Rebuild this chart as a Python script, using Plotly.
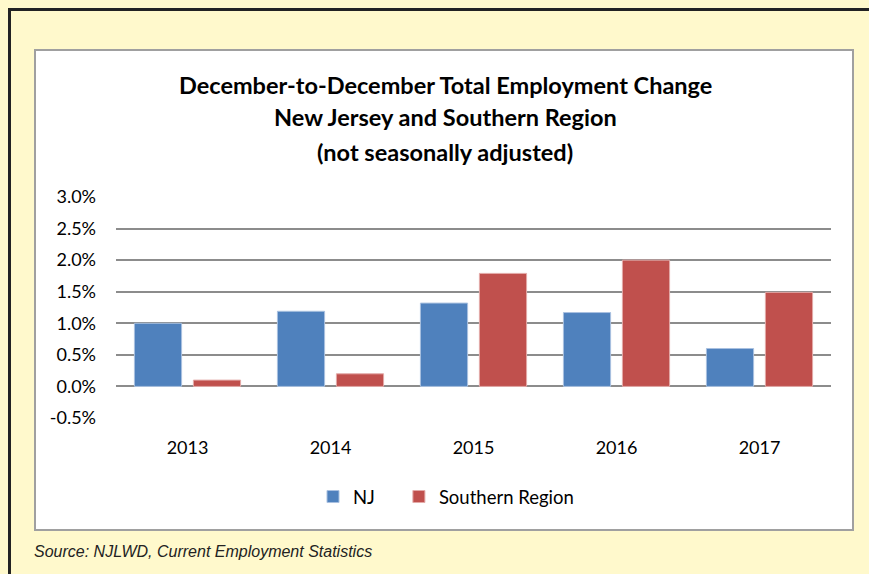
import plotly.graph_objects as go

years = ["2013", "2014", "2015", "2016", "2017"]
nj = [1.00, 1.19, 1.32, 1.17, 0.60]
southern = [0.10, 0.20, 1.79, 2.00, 1.49]
tick_vals = [-0.5, 0.0, 0.5, 1.0, 1.5, 2.0, 2.5, 3.0]
tick_text = ["-0.5%", "0.0%", "0.5%", "1.0%", "1.5%", "2.0%", "2.5%", "3.0%"]

W, H = 869, 574
L, R, T, B = 116, 38, 197, 156
ph = H - T - B

def py(p):
    return (H - B - p) / ph

def px(p):
    return (p - L) / (W - L - R)

FONT = "Lato"
PAD = "\u00a0" * 4

fig = go.Figure()
fig.add_trace(go.Bar(name="NJ" + PAD, x=years, y=nj, marker=dict(color="#4F81BD", line=dict(color="#A9C1E0", width=1))))
fig.add_trace(go.Bar(name="Southern Region", x=years, y=southern, marker=dict(color="#C0504D", line=dict(color="#E3AAA8", width=1))))

fig.update_layout(
    width=W, height=H,
    margin=dict(l=L, r=R, t=T, b=B),
    paper_bgcolor="#FFF9CC",
    plot_bgcolor="white",
    barmode="group",
    bargap=0.175,
    bargroupgap=0.2,
    font=dict(family=FONT, color="#000000", size=16),
    showlegend=True,
    legend=dict(orientation="h", x=px(313), xanchor="left", y=py(497), yanchor="middle",
                font=dict(size=18.5, family=FONT), bgcolor="rgba(0,0,0,0)", itemwidth=30,
                traceorder="normal"),
    xaxis=dict(showgrid=False, showline=False, ticks="", tickfont=dict(size=18, family=FONT), ticklabelstandoff=17),
    yaxis=dict(range=[-0.5, 3.0], tickvals=tick_vals, ticktext=tick_text, showgrid=True,
               gridcolor="#8C8C8C", gridwidth=1.5, zeroline=False, showline=False, ticks="",
               tickfont=dict(size=18, family=FONT), ticklabelstandoff=19),
    shapes=[
        dict(type="rect", xref="paper", yref="paper", x0=px(35), x1=px(853), y0=py(530), y1=py(50),
             fillcolor="white", line=dict(color="#A0A0A0", width=2), layer="below"),
        dict(type="line", xref="paper", yref="paper", x0=px(9.5), x1=px(9.5), y0=py(575), y1=py(8),
             line=dict(color="#222222", width=3)),
        dict(type="line", xref="paper", yref="paper", x0=px(8), x1=px(870), y0=py(9.5), y1=py(9.5),
             line=dict(color="#222222", width=3)),
    ],
    annotations=[
        dict(text="<b>December-to-December Total Employment Change</b>", xref="paper", yref="paper",
             x=px(445), y=py(85), xanchor="center", yanchor="middle", showarrow=False,
             font=dict(size=23.5, family=FONT)),
        dict(text="<b>New Jersey and Southern Region</b>", xref="paper", yref="paper",
             x=px(445), y=py(117.5), xanchor="center", yanchor="middle", showarrow=False,
             font=dict(size=23.5, family=FONT)),
        dict(text="<b>(not seasonally adjusted)</b>", xref="paper", yref="paper",
             x=px(445), y=py(151.5), xanchor="center", yanchor="middle", showarrow=False,
             font=dict(size=23.5, family=FONT)),
        dict(text="<i>Source: NJLWD, Current Employment Statistics</i>", xref="paper", yref="paper",
             x=px(32), y=py(551), xanchor="left", yanchor="middle", showarrow=False,
             font=dict(size=16, family="Liberation Sans, Arial", color="#222222")),
    ],
)

fig.write_html("out.html", config={"displayModeBar": False},
               post_script="document.body.style.margin='0';document.body.style.padding='0';")
